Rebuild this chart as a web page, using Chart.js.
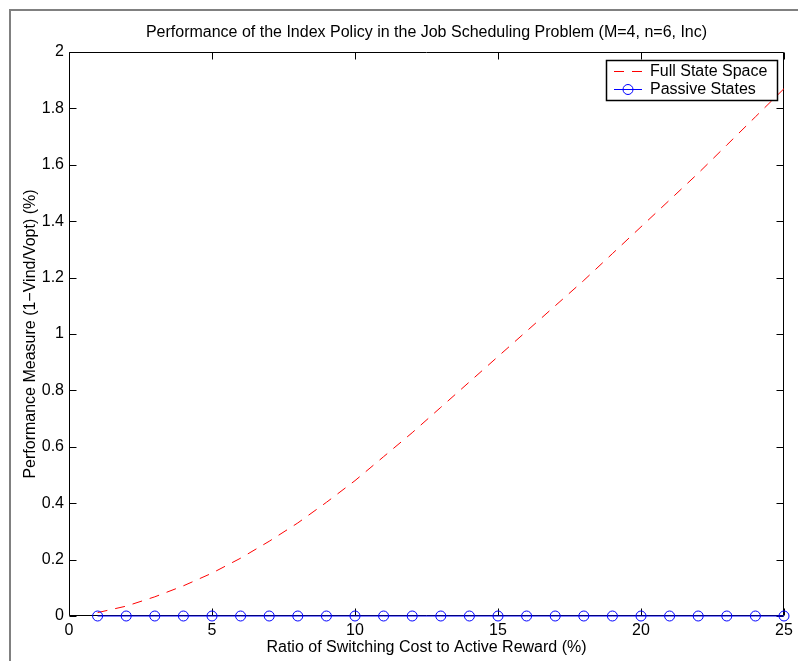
<!DOCTYPE html>
<html>
<head>
<meta charset="utf-8">
<script src="https://cdn.jsdelivr.net/npm/chart.js@4/dist/chart.umd.min.js"></script>
<style>
  html, body { margin: 0; padding: 0; background: #fff; overflow: hidden; }
  #wrap { position: relative; width: 798px; height: 661px; }
</style>
</head>
<body>
<div id="wrap"><canvas id="c" width="798" height="661"></canvas></div>
<script>
// Switching cost ratio (%) and the two performance series
const ratios = [1, 2, 3, 4, 5, 6, 7, 8, 9, 10, 11, 12, 13, 14, 15, 16, 17, 18, 19, 20, 21, 22, 23, 24, 25];
const fullStateSpace = [0.012, 0.035, 0.068, 0.107, 0.152, 0.205, 0.265, 0.330, 0.403, 0.480,
                        0.565, 0.650, 0.740, 0.830, 0.920, 1.010, 1.100, 1.190, 1.285, 1.380,
                        1.475, 1.570, 1.670, 1.770, 1.870];
const passiveStates = [0, 0, 0, 0, 0, 0, 0, 0, 0, 0, 0, 0, 0, 0, 0, 0, 0, 0, 0, 0, 0, 0, 0, 0, 0];

const xTickValues = [0, 5, 10, 15, 20, 25];
const xTickLabels = ['0', '5', '10', '15', '20', '25'];
const yTickValues = [0, 0.2, 0.4, 0.6, 0.8, 1, 1.2, 1.4, 1.6, 1.8, 2];
const yTickLabels = ['0', '0.2', '0.4', '0.6', '0.8', '1', '1.2', '1.4', '1.6', '1.8', '2'];

const seriesNames = ['Full State Space', 'Passive States'];
const titleText = 'Performance of the Index Policy in the Job Scheduling Problem (M=4, n=6, Inc)';
const xTitle = 'Ratio of Switching Cost to Active Reward (%)';
const yTitle = 'Performance Measure (1\u2212Vind/Vopt) (%)';

const FONT = '"Liberation Sans", Arial, Helvetica, sans-serif';
const FS = 16;
const RED = '#ff0000';
const BLUE = '#0000ff';

// Figure border, axes box and inward tick marks
const framePlugin = {
  id: 'frame',
  beforeDatasetsDraw(chart) {
    const ctx = chart.ctx;
    const a = chart.chartArea;
    const xs = chart.scales.x, ys = chart.scales.y;
    const L = Math.round(a.left) + 0.5, R = Math.round(a.right) - 0.5;
    const T = Math.round(a.top) + 0.5, B = Math.round(a.bottom) - 0.5;
    ctx.save();
    // outer figure edge
    ctx.strokeStyle = '#808080';
    ctx.lineWidth = 2;
    ctx.beginPath();
    ctx.moveTo(10, 661); ctx.lineTo(10, 10); ctx.lineTo(798, 10);
    ctx.stroke();
    // axes box
    ctx.strokeStyle = '#000';
    ctx.lineWidth = 1;
    ctx.beginPath();
    ctx.rect(L, T, R - L, B - T);
    ctx.stroke();
    // ticks
    const tl = 7;
    ctx.beginPath();
    xTickValues.forEach(v => {
      const px = Math.round(xs.getPixelForValue(v)) + 0.5;
      ctx.moveTo(px, B); ctx.lineTo(px, B - tl);
      ctx.moveTo(px, T); ctx.lineTo(px, T + tl);
    });
    yTickValues.forEach(v => {
      const py = Math.round(ys.getPixelForValue(v)) + 0.5;
      ctx.moveTo(L, py); ctx.lineTo(L + tl, py);
      ctx.moveTo(R, py); ctx.lineTo(R - tl, py);
    });
    ctx.stroke();
    ctx.restore();
  },
  afterDraw(chart) {
    const ctx = chart.ctx;
    const a = chart.chartArea;
    ctx.save();
    ctx.fillStyle = '#000';
    ctx.font = FS + 'px ' + FONT;
    ctx.textAlign = 'center';
    ctx.textBaseline = 'middle';
    ctx.fillText(titleText, (a.left + a.right) / 2, 33);
    ctx.fillText(xTitle, (a.left + a.right) / 2, 648);
    ctx.translate(31, (a.top + a.bottom) / 2);
    ctx.rotate(-Math.PI / 2);
    ctx.fillText(yTitle, 0, 0);
    ctx.restore();

    // legend box
    const ds = chart.data.datasets;
    const bx = 606.5, by = 60.5, bw = 171, bh = 40;
    ctx.save();
    ctx.fillStyle = '#fff';
    ctx.fillRect(bx, by, bw, bh);
    ctx.strokeStyle = '#000';
    ctx.lineWidth = 1.5;
    ctx.strokeRect(bx, by, bw, bh);
    const rows = [71, 89];
    rows.forEach((ry, i) => {
      const d = ds[i];
      ctx.strokeStyle = d.borderColor;
      ctx.lineWidth = 1;
      ctx.setLineDash(d.borderDash || []);
      ctx.beginPath();
      ctx.moveTo(614, ry + 0.5); ctx.lineTo(642, ry + 0.5);
      ctx.stroke();
      ctx.setLineDash([]);
      if (d.pointRadius > 0) {
        ctx.beginPath();
        ctx.arc(628, ry + 0.5, d.pointRadius, 0, Math.PI * 2);
        ctx.strokeStyle = d.pointBorderColor;
        ctx.stroke();
      }
      ctx.fillStyle = '#000';
      ctx.font = FS + 'px ' + FONT;
      ctx.textAlign = 'left';
      ctx.textBaseline = 'middle';
      ctx.fillText(seriesNames[i], 650, ry + 1);
    });
    ctx.restore();
  }
};

const toPoints = vals => ratios.map((r, i) => ({ x: r, y: vals[i] }));

new Chart(document.getElementById('c'), {
  type: 'line',
  data: {
    datasets: [
      {
        label: seriesNames[0],
        data: toPoints(fullStateSpace),
        borderColor: RED,
        borderWidth: 1,
        borderDash: [10, 8],
        pointRadius: 0,
        fill: false,
        tension: 0,
        order: 2
      },
      {
        label: seriesNames[1],
        data: toPoints(passiveStates),
        borderColor: BLUE,
        borderWidth: 1,
        pointRadius: 5,
        pointStyle: 'circle',
        pointBorderColor: BLUE,
        pointBackgroundColor: 'rgba(0,0,0,0)',
        pointBorderWidth: 1,
        fill: false,
        tension: 0,
        clip: false,
        order: 1
      }
    ]
  },
  options: {
    responsive: false,
    animation: false,
    devicePixelRatio: 1,
    layout: { padding: { top: 52, right: 14, left: 0, bottom: 0 } },
    plugins: { legend: { display: false }, tooltip: { enabled: false }, title: { display: false } },
    scales: {
      x: {
        type: 'linear',
        min: 0, max: 25,
        grid: { display: false, drawTicks: false },
        border: { display: false },
        afterBuildTicks: s => { s.ticks = xTickValues.map(v => ({ value: v })); },
        afterFit: s => { s.height = 45; },
        ticks: {
          color: '#000',
          font: { family: FONT, size: FS },
          padding: 5,
          maxRotation: 0,
          autoSkip: false,
          callback: (v, i) => xTickLabels[i]
        }
      },
      y: {
        type: 'linear',
        min: 0, max: 2,
        grid: { display: false, drawTicks: false },
        border: { display: false },
        afterBuildTicks: s => { s.ticks = yTickValues.map(v => ({ value: v })); },
        afterFit: s => { s.width = 69; },
        ticks: {
          color: '#000',
          font: { family: FONT, size: FS },
          padding: 5,
          autoSkip: false,
          callback: (v, i) => yTickLabels[i]
        }
      }
    }
  },
  plugins: [framePlugin]
});
</script>
</body>
</html>
